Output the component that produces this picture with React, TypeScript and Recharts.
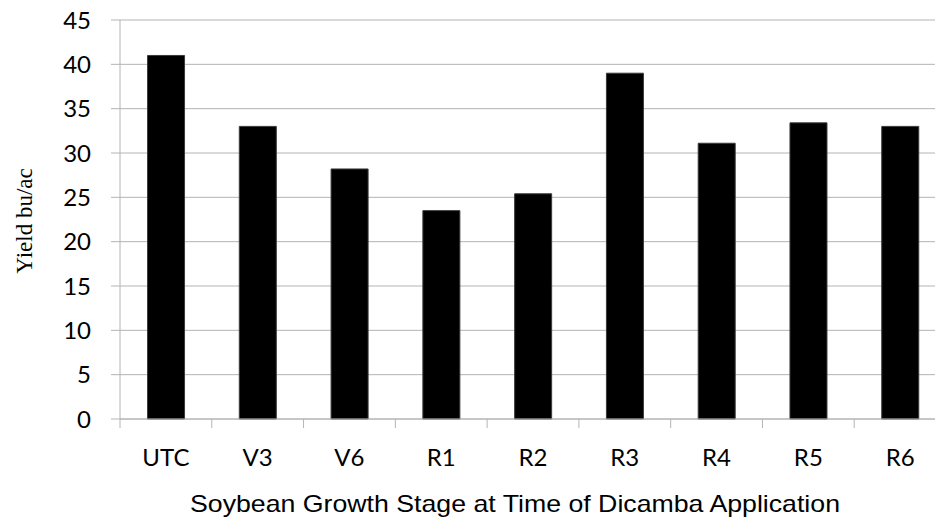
import React from "react"
import { BarChart, Bar, XAxis, YAxis, CartesianGrid } from "recharts"

const stages = ["UTC", "V3", "V6", "R1", "R2", "R3", "R4", "R5", "R6"]
const yieldValues = [41, 33, 28.2, 23.5, 25.4, 39, 31.1, 33.4, 33]
const yTicks = [0, 5, 10, 15, 20, 25, 30, 35, 40, 45]

const GRID = "#b4b4b4"
const TICK_FONT = "Lato, 'Open Sans', sans-serif"

const data = stages.map((stage, i) => ({ stage, value: yieldValues[i] }))

const XTick = (props: any) => {
  const { x, y, payload } = props
  const half = payload?.offset ?? 45.9
  return (
    <g>
      <line x1={x - half} y1={y} x2={x - half} y2={y + 9} stroke={GRID} />
      <text x={x} y={y + 47} textAnchor="middle" fontFamily={TICK_FONT} fontSize={24} fill="#000">
        {payload.value}
      </text>
    </g>
  )
}

const YTick = (props: any) => {
  const { x, y, payload } = props
  return (
    <text x={x} y={y} dy="0.36em" textAnchor="end" fontFamily={TICK_FONT} fontSize={24} fill="#000">
      {payload.value}
    </text>
  )
}

const XTitle = () => (
  <text
    x={515}
    y={512}
    textAnchor="middle"
    fontFamily="'Liberation Sans', Arial, sans-serif"
    fontSize={24}
    textLength={650}
    lengthAdjust="spacingAndGlyphs"
    fill="#000"
  >
    Soybean Growth Stage at Time of Dicamba Application
  </text>
)

const YTitle = () => (
  <text
    x={32}
    y={221}
    transform="rotate(-90, 32, 221)"
    textAnchor="middle"
    fontFamily="'Liberation Serif', 'Times New Roman', serif"
    fontSize={23}
    fill="#000"
  >
    Yield bu/ac
  </text>
)

export default function App() {
  return (
    <div style={{ position: "absolute", left: 0, top: 0, width: 935, height: 520, overflow: "hidden", background: "#fff" }}>
      <BarChart
        width={962}
        height={520}
        data={data}
        margin={{ top: 20, right: 16, left: 0, bottom: 0 }}
        barCategoryGap="30%"
      >
        <CartesianGrid horizontal={true} vertical={false} stroke={GRID} />
        <XAxis
          dataKey="stage"
          height={101}
          axisLine={{ stroke: GRID }}
          tickLine={false}
          tickSize={0}
          tickMargin={0}
          interval={0}
          tick={<XTick />}
          label={<XTitle />}
        />
        <YAxis
          width={120}
          domain={[0, 45]}
          ticks={yTicks}
          interval={0}
          axisLine={{ stroke: GRID }}
          tickLine={{ stroke: GRID }}
          tickSize={9}
          tickMargin={20}
          tick={<YTick />}
          label={<YTitle />}
        />
        <Bar dataKey="value" fill="#000" stroke="#3a3a3a" strokeWidth={1} isAnimationActive={false} />
      </BarChart>
    </div>
  )
}
